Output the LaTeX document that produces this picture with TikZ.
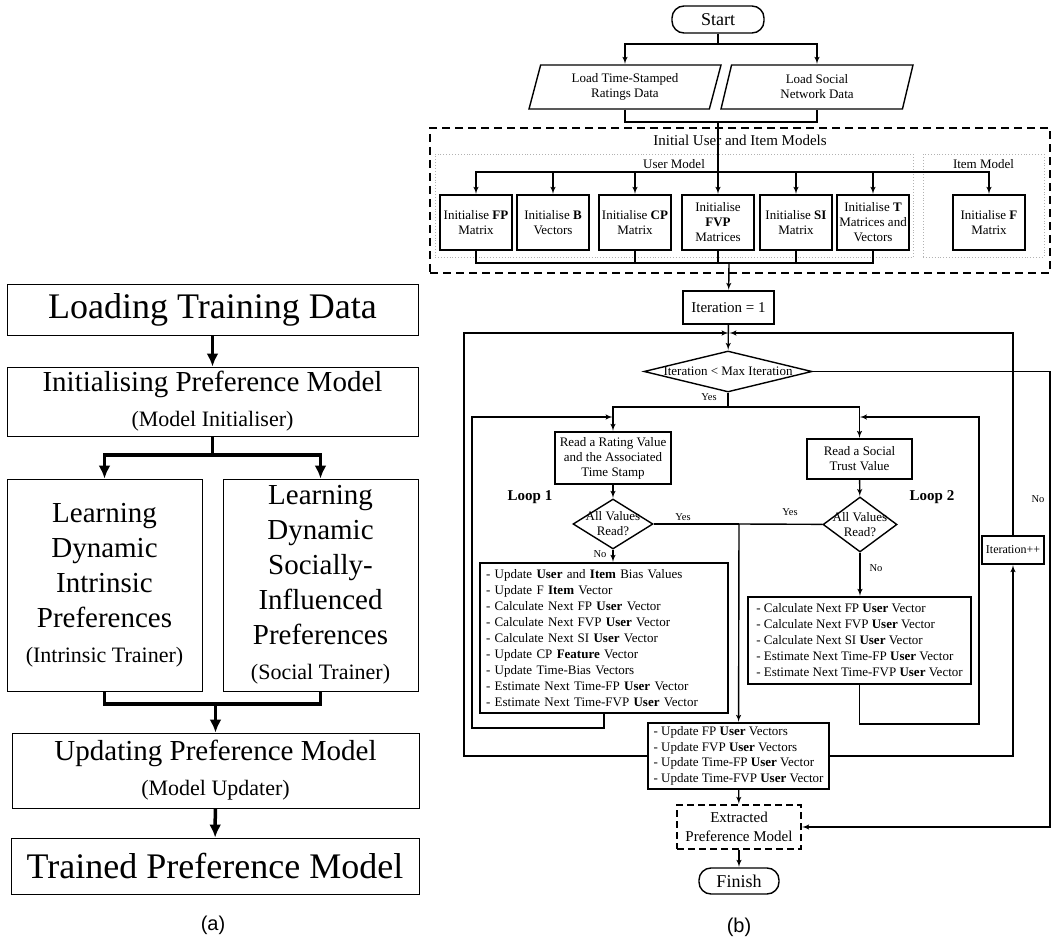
\documentclass[tikz,border=0pt]{standalone}
\usepackage{fontspec}
\setmainfont{Liberation Serif}
\setsansfont{Liberation Sans}
\usetikzlibrary{positioning}
\usetikzlibrary{shapes.geometric}
\usetikzlibrary{arrows}
\usetikzlibrary{arrows.meta}
\usetikzlibrary{calc}
\newcommand{\fsz}[2]{\fontsize{#1}{#2}\selectfont}
\tikzset{>=latex'}
\tikzset{ln/.style={line width=1.4pt}}
\tikzset{ar/.style={->,line width=1.4pt,shorten >=0.5pt}}
\tikzset{fat/.style={-{Latex[length=13pt,width=12pt]},line width=3.5pt}}
\tikzset{pbox/.style={draw,line width=0.9pt,align=center,inner sep=0pt}}
\tikzset{bx/.style={draw,line width=1.4pt,align=center,inner sep=1pt,font=\fsz{13}{15}}}
\tikzset{lst/.style={draw,line width=1.4pt,align=left,inner xsep=2pt,inner ysep=0pt,font=\fsz{13}{16}}}
\tikzset{dec/.style={draw,diamond,line width=1.4pt,align=center,inner sep=-5pt,font=\fsz{13}{15}}}
\tikzset{io/.style={draw,trapezium,trapezium left angle=68,trapezium right angle=112,trapezium stretches body,line width=1.4pt,align=center,inner sep=1pt,font=\fsz{13}{15}}}
\tikzset{term/.style={draw,rounded corners=12pt,line width=1.4pt,inner sep=0pt,font=\fsz{18}{20}}}
\tikzset{grp/.style={draw=black!30,dotted,line width=0.9pt}}
\tikzset{ed/.style={inner sep=1pt,font=\fsz{10.5}{12}}}

\begin{document}
\begin{tikzpicture}[x=1pt,y=-1pt]
\useasboundingbox (0,0) rectangle (1053,939);

% (a) overview
\node[pbox,minimum width=411pt,minimum height=51pt,font=\fsz{36}{40}] (LD) at (212.5,309.5) {Loading Training Data};
\node[pbox,minimum width=411pt,minimum height=69pt,font=\fsz{29}{35}] (IP) at (212.5,401.5) {Initialising Preference Model\\\fsz{22}{31}(Model Initialiser)};
\node[pbox,minimum width=195pt,minimum height=212pt,font=\fsz{29}{35}] (LI) at (104.5,585) {Learning\\Dynamic\\Intrinsic\\Preferences\\\fsz{22}{35}(Intrinsic Trainer)};
\node[pbox,minimum width=195pt,minimum height=212pt,font=\fsz{29}{35}] (LS) at (320.5,585) {Learning\\Dynamic\\Socially-\\Influenced\\Preferences\\\fsz{22}{35}(Social Trainer)};
\node[pbox,minimum width=407pt,minimum height=75pt,font=\fsz{29}{35}] (UP) at (215.5,770.5) {Updating Preference Model\\\fsz{22}{35}(Model Updater)};
\node[pbox,minimum width=408pt,minimum height=56pt,font=\fsz{36}{40}] (TP) at (215,866) {Trained Preference Model};
\coordinate (ja) at (212.5,455);
\coordinate (jb) at (215.5,704);

\draw[fat] (LD) -- (IP);
\draw[line width=3.5pt] (IP) -- (ja);
\draw[fat] (ja) -| (LI);
\draw[fat] (ja) -| (LS);
\draw[line width=3.5pt] (LI) |- (jb);
\draw[line width=3.5pt] (LS) |- (jb);
\draw[fat] (jb) -- (UP);
\draw[fat] (UP) -- (TP);

\node[font=\sffamily\fsz{20}{24}] (ca) at (213,925) {(a)};

% (b) flow chart
\begin{scope}[on grid]
\node[term,minimum width=92pt,minimum height=27pt] (st) at (718,19.5) {Start};
\node[io,minimum width=192pt,minimum height=44pt] (ld1) at (625,87) {Load Time-Stamped\\Ratings Data};
\node[io,minimum width=192pt,minimum height=44pt] (ld2) [right = 192pt of ld1] {Load Social\\Network Data};

\node[draw,line width=1.4pt,dash pattern=on 8pt off 5pt,minimum width=620pt,minimum height=145pt] (mdl) at (740,200.5) {};
\node[grp,minimum width=478pt,minimum height=103pt] (um) at (674,205.5) {};
\node[grp,minimum width=121pt,minimum height=103pt] (im) at (983.5,205.5) {};
\node[font=\fsz{15}{18}] (mdlt) at (740,140) {Initial User and Item Models};
\node[font=\fsz{13}{15}] (umt) at (674,164) {User Model};
\node[font=\fsz{13}{15}] (imt) at (983.5,164) {Item Model};

\node[bx,minimum width=72pt,minimum height=55pt] (fp) at (476,222.5) {Initialise \textbf{FP}\\Matrix};
\node[bx,minimum width=72pt,minimum height=55pt] (bv) at (553,222.5) {Initialise \textbf{B}\\Vectors};
\node[bx,minimum width=72pt,minimum height=55pt] (cp) at (635,222.5) {Initialise \textbf{CP}\\Matrix};
\node[bx,minimum width=72pt,minimum height=55pt] (fvp) at (718,222.5) {Initialise\\\textbf{FVP}\\Matrices};
\node[bx,minimum width=72pt,minimum height=55pt] (si) at (796,222.5) {Initialise \textbf{SI}\\Matrix};
\node[bx,minimum width=72pt,minimum height=55pt] (tm) at (873,222.5) {Initialise \textbf{T}\\Matrices and\\Vectors};
\node[bx,minimum width=72pt,minimum height=55pt] (fi) at (989,222.5) {Initialise \textbf{F}\\Matrix};

\node[bx,font=\fsz{15}{18},minimum width=91pt,minimum height=33pt] (it1) at (728.5,307.5) {Iteration = 1};
\node[dec,aspect=4.1,minimum width=168pt,minimum height=41pt] (d0) at (728,371.5) {Iteration < Max Iteration};
\node[bx,minimum width=116pt,minimum height=52pt] (rr) at (613,458) {Read a Rating Value\\and the Associated\\Time Stamp};
\node[bx,minimum width=105pt,minimum height=40pt] (rs) at (859.5,459) {Read a Social\\Trust Value};
\node[dec,aspect=1.6,minimum width=80pt,minimum height=50pt] (dm1) at (613,524) {All Values\\Read?};
\node[dec,aspect=1.35,minimum width=74pt,minimum height=55pt] (dm2) at (860,524.5) {All Values\\Read?};
\node[font=\bfseries\fsz{15}{18}] (lp1) at (530,497) {Loop 1};
\node[font=\bfseries\fsz{15}{18}] (lp2) at (932,497) {Loop 2};

\node[lst,text width=236pt,minimum height=150pt,inner xsep=6pt] (u1) at (604,638) {- Update \textbf{User} and \textbf{Item} Bias Values\\- Update F \textbf{Item} Vector\\- Calculate Next FP \textbf{User} Vector\\- Calculate Next FVP \textbf{User} Vector\\- Calculate Next SI \textbf{User} Vector\\- Update CP \textbf{Feature} Vector\\- Update Time-Bias Vectors\\- Estimate Next Time-FP \textbf{User} Vector\\- Estimate Next Time-FVP \textbf{User} Vector};
\node[lst,minimum width=223pt,minimum height=87pt] (u2) at (859.5,640.5) {- Calculate Next FP \textbf{User} Vector\\- Calculate Next FVP \textbf{User} Vector\\- Calculate Next SI \textbf{User} Vector\\- Estimate Next Time-FP \textbf{User} Vector\\- Estimate Next Time-FVP \textbf{User} Vector};
\node[lst,font=\fsz{13}{15.5},minimum width=181pt,minimum height=66pt] (up3) at (738.5,756) {- Update FP \textbf{User} Vectors\\- Update FVP \textbf{User} Vectors\\- Update Time-FP \textbf{User} Vector\\- Update Time-FVP \textbf{User} Vector};
\node[bx,minimum width=62pt,minimum height=28pt,font=\fsz{12}{14}] (ipp) at (1013,550) {Iteration++};
\node[bx,dash pattern=on 7pt off 4pt,font=\fsz{15}{19},minimum width=124pt,minimum height=44pt] (ex) at (739,827) {Extracted\\Preference Model};
\node[term,minimum width=80pt,minimum height=26pt] (fin) [below = 54pt of ex] {Finish};
\end{scope}

\coordinate (j0) at (718,44);
\coordinate (j1) at (718,122);
\coordinate (j2) at (718,172);
\coordinate (j3) at (729,263);
\coordinate (j4) at (729,333);
\coordinate (j5) at (728,407);
\coordinate (j6) at (739,524);
\coordinate (lc) at (464,333);
\coordinate (rc) at (1013,333);
\coordinate (nc) at (1050,371.5);
\coordinate (l1) at (472,728);
\coordinate (l1t) at (472,417);
\coordinate (l2) at (979,724);
\coordinate (l2t) at (979,417);

\draw[ln] (st) -- (j0);
\draw[ar] (j0) -| (ld1);
\draw[ar] (j0) -| (ld2);
\draw[ln] (ld1) |- (j1) -| (ld2);
\draw[ln] (j1) -- (j2);
\draw[ar] (j2) -| (fp);
\draw[ar] (j2) -| (bv);
\draw[ar] (j2) -| (cp);
\draw[ar] (j2) -- (fvp);
\draw[ar] (j2) -| (si);
\draw[ar] (j2) -| (tm);
\draw[ar] (j2) -| (fi);
\draw[ln] (fp) |- (j3);
\draw[ln] (cp) |- (j3);
\draw[ln] (fvp) |- (j3);
\draw[ln] (si) |- (j3);
\draw[ln] (tm) |- (j3);
\draw[ar] (j3) -- (it1);

\draw[ar] (it1) -- (d0);
\draw[ar] (up3.west) -| (lc) -- (j4);
\draw[ar] (up3.east) -| (ipp);
\draw[ar] (ipp) -- (rc) -- (j4);
\draw[ar] (d0) -- (nc) |- (ex);
\node[ed] (no0) at (1038,499) {No};

\draw[ln] (d0) -- (j5);
\node[ed] (y0) at (709,397) {Yes};
\draw[ar] (j5) -| (rr);
\draw[ar] (j5) -| (rs);
\draw[ar] (rr) -- (dm1);
\draw[ar] (rs) -- (dm2);

\draw[ln] (dm1) -- (j6);
\draw[ln] (dm2) -- (j6);
\draw[ar] (j6) -- (up3);
\node[ed] (y1) at (683,517) {Yes};
\node[ed] (y2) at (790,512) {Yes};
\draw[ar] (dm1.south) -- (dm1.south |- u1.north);
\draw[ar] (dm2.south) -- (dm2.south |- u2.north);
\node[ed] (n1) at (600,554) {No};
\node[ed] (n2) at (876,568) {No};

\draw[ar] (u1) |- (l1) -- (l1t) -- (l1t -| rr);
\draw[ar] (u2) |- (l2) -- (l2t) -- (l2t -| rs);

\draw[ar] (up3) -- (ex);
\draw[ar] (ex) -- (fin);

\node[font=\sffamily\fsz{20}{24}] (cb) at (739,927) {(b)};
\end{tikzpicture}
\end{document}
